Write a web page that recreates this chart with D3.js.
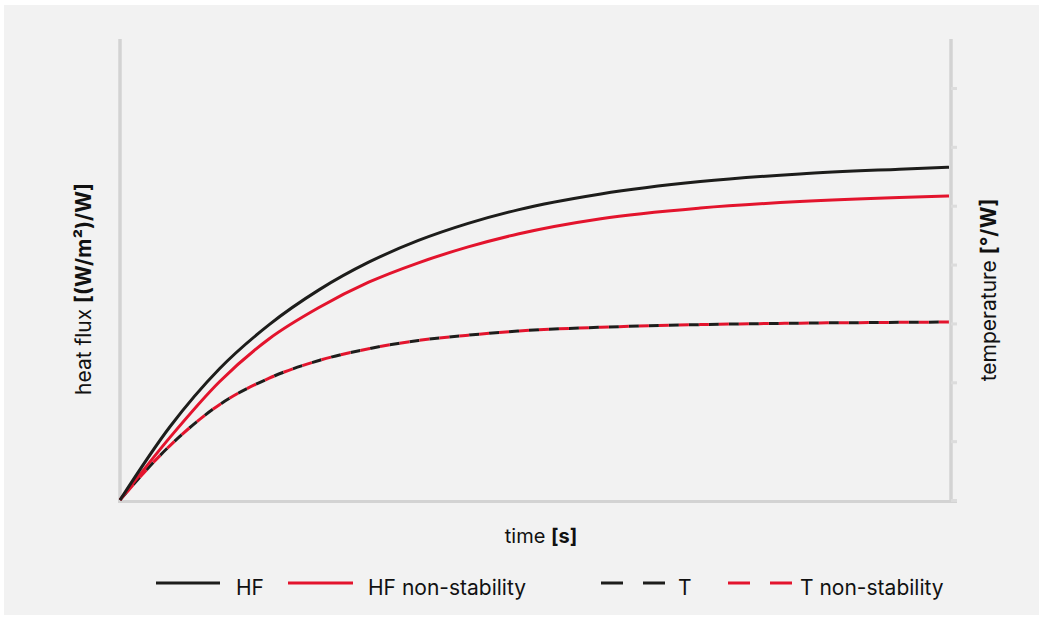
<!DOCTYPE html>
<html>
<head>
<meta charset="utf-8">
<script src="https://cdn.jsdelivr.net/npm/d3@7"></script>
<style>
  html, body { margin: 0; padding: 0; background: #fff; }
  svg { display: block; font-family: Inter, "Noto Sans", sans-serif; }
</style>
</head>
<body>
<div id="chart"></div>
<script>
// time (arbitrary units, 0..100) and readings in right-axis units
var time = [0, 6, 12, 18, 24, 30, 36, 42, 48, 58, 70, 82, 94, 100];
var hf = [0, 1.24, 2.23, 2.98, 3.57, 4.04, 4.41, 4.70, 4.93, 5.20, 5.41, 5.54, 5.62, 5.655];
var hfNonStab = [0, 1.06, 2.01, 2.74, 3.27, 3.70, 4.03, 4.30, 4.52, 4.78, 4.96, 5.07, 5.14, 5.165];
var temp = [0, 0.92, 1.62, 2.07, 2.37, 2.57, 2.71, 2.80, 2.87, 2.935, 2.98, 3.005, 3.018, 3.024];
var tempNonStab = [0, 0.92, 1.62, 2.07, 2.37, 2.57, 2.71, 2.80, 2.87, 2.935, 2.98, 3.005, 3.018, 3.024];
var rightTicks = [0, 1, 2, 3, 4, 5, 6, 7];

var black = '#1d1d1b', red = '#e3142d', grey = '#d3d3d3';

var svg = d3.select('#chart')
    .append('svg')
    .attr('width', 1043)
    .attr('height', 620);

svg.append('rect')
    .attr('x', 4).attr('y', 5)
    .attr('width', 1035).attr('height', 610)
    .attr('fill', '#f2f2f2');

var x = d3.scaleLinear().domain([0, 100]).range([120, 949]);
var y = d3.scaleLinear().domain([0, 7]).range([500, 88]);

// axis lines
svg.append('line')
    .attr('x1', 120).attr('x2', 120).attr('y1', 39).attr('y2', 502)
    .attr('stroke', grey).attr('stroke-width', 3.5);
svg.append('line')
    .attr('x1', 951).attr('x2', 951).attr('y1', 39).attr('y2', 502)
    .attr('stroke', grey).attr('stroke-width', 3.5);
svg.append('line')
    .attr('x1', 118).attr('x2', 957).attr('y1', 501.5).attr('y2', 501.5)
    .attr('stroke', grey).attr('stroke-width', 3);

var right = svg.append('g')
    .attr('transform', 'translate(951,0)')
    .call(d3.axisRight(y).tickValues(rightTicks).tickSize(6).tickFormat(''));
right.select('.domain').remove();
right.selectAll('.tick line').attr('stroke', '#dcdcdc').attr('stroke-width', 3);

function series(vals) {
    return time.map(function(t, i) { return [t, vals[i]]; });
}

var line = d3.line()
    .x(function(d) { return x(d[0]); })
    .y(function(d) { return y(d[1]); })
    .curve(d3.curveMonotoneX);

svg.append('path').datum(series(temp))
    .attr('d', line).attr('fill', 'none')
    .attr('stroke', black).attr('stroke-width', 3)
    .attr('stroke-dasharray', '10,10');
svg.append('path').datum(series(tempNonStab))
    .attr('d', line).attr('fill', 'none')
    .attr('stroke', red).attr('stroke-width', 3)
    .attr('stroke-dasharray', '10,10').attr('stroke-dashoffset', 10);
svg.append('path').datum(series(hfNonStab))
    .attr('d', line).attr('fill', 'none')
    .attr('stroke', red).attr('stroke-width', 3);
svg.append('path').datum(series(hf))
    .attr('d', line).attr('fill', 'none')
    .attr('stroke', black).attr('stroke-width', 3);

// axis titles
var lt = svg.append('text')
    .attr('transform', 'translate(91,289) rotate(-90)')
    .attr('text-anchor', 'middle')
    .attr('font-size', 21).attr('fill', '#111');
lt.append('tspan').text('heat flux ');
lt.append('tspan').attr('font-weight', 'bold').text('[(W/m²)/W]');

var rt = svg.append('text')
    .attr('transform', 'translate(996,290) rotate(-90)')
    .attr('text-anchor', 'middle')
    .attr('font-size', 21).attr('fill', '#111');
rt.append('tspan').text('temperature ');
rt.append('tspan').attr('font-weight', 'bold').text('[°/W]');

var bt = svg.append('text')
    .attr('x', 541).attr('y', 543)
    .attr('text-anchor', 'middle')
    .attr('font-size', 20).attr('fill', '#111');
bt.append('tspan').text('time ');
bt.append('tspan').attr('font-weight', 'bold').text('[s]');

// legend
var legend = [
    { label: 'HF', color: black, dash: null, x1: 156, x2: 220, tx: 236 },
    { label: 'HF non-stability', color: red, dash: null, x1: 288, x2: 353, tx: 368 },
    { label: 'T', color: black, dash: '22,20', x1: 601, x2: 666, tx: 678 },
    { label: 'T non-stability', color: red, dash: '22,20', x1: 728, x2: 793, tx: 800 }
];
var lg = svg.selectAll('.leg').data(legend).enter().append('g');
lg.append('line')
    .attr('x1', function(d) { return d.x1; })
    .attr('x2', function(d) { return d.x2; })
    .attr('y1', 583).attr('y2', 583)
    .attr('stroke', function(d) { return d.color; })
    .attr('stroke-width', 3)
    .attr('stroke-dasharray', function(d) { return d.dash; });
lg.append('text')
    .attr('x', function(d) { return d.tx; })
    .attr('y', 595)
    .attr('font-size', 21).attr('fill', '#111')
    .text(function(d) { return d.label; });
</script>
</body>
</html>
